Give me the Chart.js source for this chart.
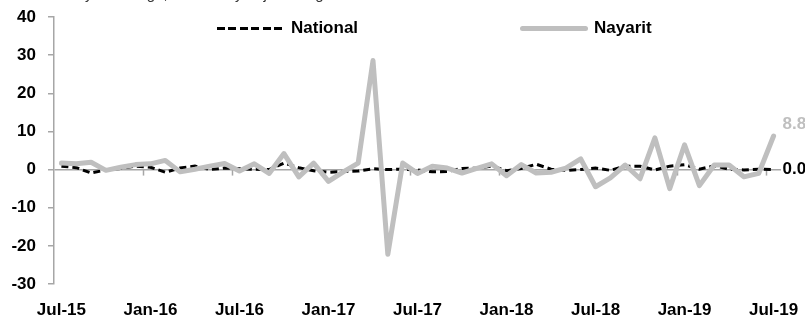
<!DOCTYPE html>
<html>
<head>
<meta charset="utf-8">
<script src="https://cdn.jsdelivr.net/npm/chart.js@4.4.1/dist/chart.umd.min.js"></script>
<style>
  html, body { margin: 0; padding: 0; background: #fff; overflow: hidden; }
  #wrap { position: relative; width: 805px; height: 324px; overflow: hidden; }
  #note {
    position: absolute; left: 40px; top: -15px; white-space: nowrap;
    font: 15px 'Liberation Sans', Arial, sans-serif; color: #333;
  }
  .leg { position: absolute; top: 17px; height: 22px; display: flex; align-items: center;
    font: bold 17px 'Liberation Sans', Arial, sans-serif; color: #000; }
  .leg .sw { width: 68px; margin-right: 6px; }
</style>
</head>
<body>
<div id="wrap">
  <div id="note">Monthly % change, seasonally adjusted figures</div>
  <canvas id="chart"></canvas>
</div>
<script>
// Nayarit vs National, monthly % change (Jul-15 .. Jul-19)

const months = [
  'Jul-15', 'Aug-15', 'Sep-15', 'Oct-15', 'Nov-15', 'Dec-15',
  'Jan-16', 'Feb-16', 'Mar-16', 'Apr-16', 'May-16', 'Jun-16',
  'Jul-16', 'Aug-16', 'Sep-16', 'Oct-16', 'Nov-16', 'Dec-16',
  'Jan-17', 'Feb-17', 'Mar-17', 'Apr-17', 'May-17', 'Jun-17',
  'Jul-17', 'Aug-17', 'Sep-17', 'Oct-17', 'Nov-17', 'Dec-17',
  'Jan-18', 'Feb-18', 'Mar-18', 'Apr-18', 'May-18', 'Jun-18',
  'Jul-18', 'Aug-18', 'Sep-18', 'Oct-18', 'Nov-18', 'Dec-18',
  'Jan-19', 'Feb-19', 'Mar-19', 'Apr-19', 'May-19', 'Jun-19',
  'Jul-19'
];

const national = [
  0.9, 0.5, -0.9, -0.1, 0.3, 0.9,
  0.6, -0.7, 0.4, 0.9, 0.0, 0.4,
  0.2, 0.1, 0.0, 1.7, 0.5, -0.3,
  -0.7, -0.5, -0.4, 0.2, 0.0, 0.1,
  -0.1, -0.6, -0.5, 0.3, 0.4, 0.9,
  -0.3, 0.3, 1.4, 0.1, -0.2, 0.0,
  0.4, -0.2, 0.9, 0.9, -0.1, 0.9,
  1.3, 0.1, 1.0, 0.1, -0.1, 0.1,
  0.0
];

const nayarit = [
  1.7, 1.5, 1.9, -0.2, 0.6, 1.3,
  1.5, 2.4, -0.6, 0.1, 0.9, 1.6,
  -0.4, 1.5, -1.0, 4.2, -1.9, 1.7,
  -3.1, -0.6, 1.7, 28.6, -22.2, 1.7,
  -1.0, 0.9, 0.4, -0.9, 0.3, 1.5,
  -1.6, 1.3, -0.9, -0.7, 0.4, 2.8,
  -4.5, -2.2, 1.2, -2.4, 8.3, -5.0,
  6.5, -4.2, 1.2, 1.2, -1.9, -1.0,
  8.8
];

const seriesNames = ['National', 'Nayarit'];
const yTicks = [-30, -20, -10, 0, 10, 20, 30, 40];

const FONT = "'Liberation Sans', Arial, sans-serif";
const AXIS_GREY = '#A6A6A6';
const NAYARIT_GREY = '#BFBFBF';

// tick marks on the zero line every 6 months (between categories)
const zeroTicks = {
  id: 'zeroTicks',
  beforeDatasetsDraw(chart) {
    const { ctx, scales: { x, y } } = chart;
    const y0 = y.getPixelForValue(0);
    const half = (x.getPixelForValue(1) - x.getPixelForValue(0)) / 2;
    ctx.save();
    ctx.strokeStyle = AXIS_GREY;
    ctx.lineWidth = 1.5;
    for (let k = 6; k < months.length; k += 6) {
      const px = Math.round(x.getPixelForValue(k) - half) + 0.5;
      ctx.beginPath();
      ctx.moveTo(px, y0);
      ctx.lineTo(px, y0 + 6);
      ctx.stroke();
    }
    ctx.restore();
  }
};

// value labels at the end of each line
const endLabels = {
  id: 'endLabels',
  afterDatasetsDraw(chart) {
    const { ctx } = chart;
    ctx.save();
    ctx.font = 'bold 17px ' + FONT;
    ctx.textBaseline = 'middle';
    chart.data.datasets.forEach((ds, i) => {
      const meta = chart.getDatasetMeta(i);
      const pt = meta.data[meta.data.length - 1];
      const v = ds.data[ds.data.length - 1];
      ctx.fillStyle = ds.labelColor;
      ctx.fillText(v.toFixed(1), pt.x + 9, pt.y + ds.labelDy);
    });
    ctx.restore();
  }
};

const chart = new Chart(document.getElementById('chart'), {
  type: 'line',
  data: {
    labels: months,
    datasets: [
      {
        label: seriesNames[0],
        data: national,
        borderColor: '#000',
        borderWidth: 3,
        borderDash: [7, 4],
        pointRadius: 0,
        tension: 0,
        fill: false,
        order: 1,
        labelColor: '#000',
        labelDy: 0
      },
      {
        label: seriesNames[1],
        data: nayarit,
        borderColor: NAYARIT_GREY,
        borderWidth: 5,
        borderJoinStyle: 'round',
        borderCapStyle: 'round',
        pointRadius: 0,
        tension: 0,
        fill: false,
        order: 0,
        labelColor: NAYARIT_GREY,
        labelDy: -12
      }
    ]
  },
  options: {
    responsive: true,
    maintainAspectRatio: false,
    animation: false,
    layout: { padding: { left: 3, right: 24, top: 17, bottom: 1 } },
    plugins: { legend: { display: false }, tooltip: { enabled: false } },
    scales: {
      x: {
        offset: true,
        afterFit: s => { s.height = 39; s.paddingLeft = 0; s.paddingRight = 0; },
        grid: { display: false, drawTicks: false },
        border: { display: false },
        ticks: {
          autoSkip: false,
          maxRotation: 0,
          padding: 16,
          color: '#000',
          font: { family: FONT, size: 17, weight: 'bold' },
          callback: (v, i) => (i % 6 === 0 ? months[i] : null)
        }
      },
      y: {
        min: yTicks[0],
        max: yTicks[yTicks.length - 1],
        afterFit: s => { s.width = 51; s.paddingTop = 0; s.paddingBottom = 0; },
        afterBuildTicks: axis => { axis.ticks = yTicks.map(v => ({ value: v })); },
        grid: {
          color: c => (c.tick && c.tick.value === 0 ? AXIS_GREY : 'transparent'),
          lineWidth: 1.5,
          tickColor: AXIS_GREY,
          tickLength: 6
        },
        border: { display: true, color: AXIS_GREY, width: 1.5 },
        ticks: {
          padding: 12,
          color: '#000',
          font: { family: FONT, size: 17, weight: 'bold' }
        }
      }
    }
  },
  plugins: [zeroTicks, endLabels]
});

// legend inside the plot area, built from the datasets
const legendPos = [217, 520];
chart.data.datasets.forEach((ds, i) => {
  const item = document.createElement('div');
  item.className = 'leg';
  item.style.left = legendPos[i] + 'px';
  const sw = document.createElement('span');
  sw.className = 'sw';
  if (ds.borderDash) {
    sw.style.height = ds.borderWidth + 'px';
    sw.style.background = 'repeating-linear-gradient(90deg, ' + ds.borderColor +
      ' 0 8px, transparent 8px 11.4px)';
  } else {
    sw.style.height = ds.borderWidth + 'px';
    sw.style.borderRadius = '3px';
    sw.style.background = ds.borderColor;
  }
  item.appendChild(sw);
  item.appendChild(document.createTextNode(ds.label));
  document.getElementById('wrap').appendChild(item);
});
</script>
</body>
</html>
